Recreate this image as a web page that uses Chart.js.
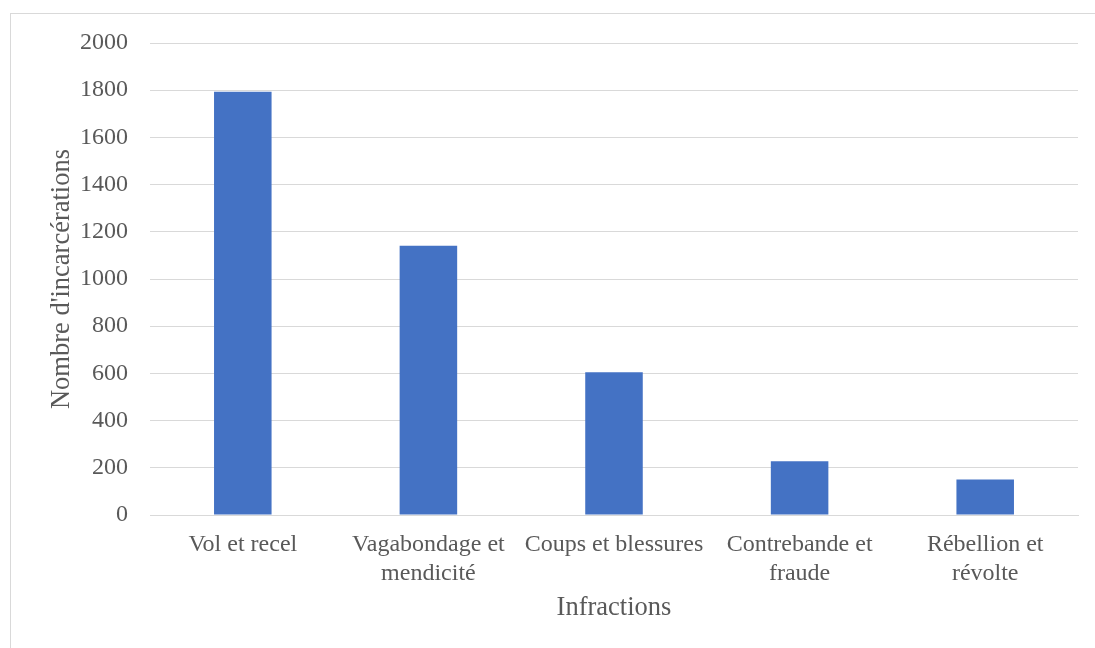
<!DOCTYPE html>
<html>
<head>
<meta charset="utf-8">
<script src="https://cdn.jsdelivr.net/npm/chart.js@4/dist/chart.umd.min.js"></script>
<style>
  html, body { margin: 0; padding: 0; background: #fff; }
  #wrap { position: relative; width: 1095px; height: 648px; overflow: hidden; }
  #frame { position: absolute; left: 10px; top: 13px; width: 1100px; height: 660px; border: 1px solid #d9d9d9; box-sizing: border-box; }
  canvas { position: absolute; left: 0; top: 0; }
</style>
</head>
<body>
<div id="wrap">
  <div id="frame"></div>
  <canvas id="c" width="1095" height="648"></canvas>
</div>
<script>
const categories = [
  "Vol et recel",
  ["Vagabondage et", "mendicité"],
  "Coups et blessures",
  ["Contrebande et", "fraude"],
  ["Rébellion et", "révolte"]
];
const values = [1793, 1141, 605, 228, 150];
const yTicksMin = 0, yTicksMax = 2000, yTickStep = 200;

const fontFamily = "'Liberation Serif', 'Times New Roman', serif";

new Chart(document.getElementById('c'), {
  type: 'bar',
  data: {
    labels: categories,
    datasets: [{
      data: values,
      backgroundColor: '#4472C4',
      borderWidth: 0,
      barPercentage: 0.31,
      categoryPercentage: 1.0
    }]
  },
  options: {
    responsive: false,
    animation: false,
    devicePixelRatio: 1,
    layout: { padding: { left: 0, right: 17, top: 43, bottom: 0 } },
    plugins: { legend: { display: false }, tooltip: { enabled: false } },
    scales: {
      x: {
        grid: { display: false, drawTicks: false },
        border: { display: true, color: '#d9d9d9', width: 1 },
        ticks: {
          color: '#595959',
          font: { family: fontFamily, size: 24, lineHeight: 1.21 },
          padding: 15.5,
          maxRotation: 0,
          autoSkip: false
        },
        title: {
          display: true,
          text: 'Infractions',
          color: '#595959',
          font: { family: fontFamily, size: 26.5, lineHeight: 1.2 },
          padding: { top: 0, bottom: 24 }
        },
        afterFit: (s) => { s.height = 133; }
      },
      y: {
        min: yTicksMin,
        max: yTicksMax,
        grid: { color: '#d9d9d9', lineWidth: 1, drawTicks: false },
        border: { display: false },
        ticks: {
          stepSize: yTickStep,
          color: '#595959',
          font: { family: fontFamily, size: 24 },
          padding: 22,
          callback: (v) => String(v)
        },
        title: {
          display: true,
          text: "Nombre d'incarcérations",
          color: '#595959',
          font: { family: fontFamily, size: 26.5, lineHeight: 1.2 },
          padding: { top: 46, bottom: 0 }
        },
        afterFit: (s) => { s.width = 150; }
      }
    }
  }
});
</script>
</body>
</html>
